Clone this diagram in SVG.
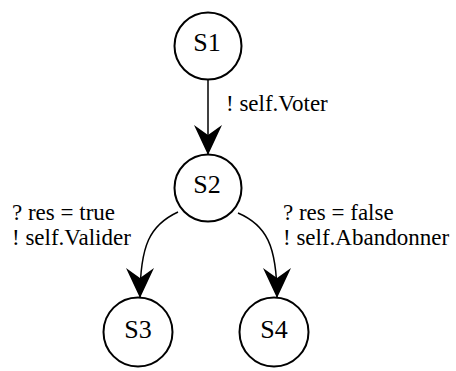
<svg xmlns="http://www.w3.org/2000/svg" width="456" height="371" viewBox="0 0 456 371">
<style>
.node{fill:#fff;stroke:#000;stroke-width:2}
.lbl{font-family:'Liberation Serif','Times New Roman',serif;font-size:26px;fill:#000;text-anchor:middle}
.el{font-family:'Liberation Serif','Times New Roman',serif;font-size:23px;fill:#000}
.edge{fill:none;stroke:#000;stroke-width:1.5}
</style>
<defs>
<marker id="ah" viewBox="0 0 30 28" refX="30" refY="14" markerWidth="30" markerHeight="28" markerUnits="userSpaceOnUse" orient="auto">
<path d="M0,0 L30,14 L0,28 L10,14 Z" fill="#000"/>
</marker>
</defs>
<g id="connectors">
<path class="edge" d="M208 80 L208 155" marker-end="url(#ah)"/>
<path class="edge" d="M178 212 C150 225 140 245 140 298" marker-end="url(#ah)"/>
<path class="edge" d="M238 213 C266 225 277 245 277 298" marker-end="url(#ah)"/>
<text class="el" x="226" y="111">! self.Voter</text>
<text class="el" x="12" y="220">? res = true</text>
<text class="el" x="12" y="245">! self.Valider</text>
<text class="el" x="283" y="220">? res = false</text>
<text class="el" x="283" y="245">! self.Abandonner</text>
</g>
<g id="S1"><circle class="node" cx="208" cy="46" r="33.5"/><text class="lbl" x="207" y="51">S1</text></g>
<g id="S2"><circle class="node" cx="208" cy="188" r="33.5"/><text class="lbl" x="207" y="193">S2</text></g>
<g id="S3"><circle class="node" cx="138" cy="332" r="34.5"/><text class="lbl" x="138" y="338">S3</text></g>
<g id="S4"><circle class="node" cx="274" cy="332" r="34.5"/><text class="lbl" x="274" y="338">S4</text></g>
</svg>
